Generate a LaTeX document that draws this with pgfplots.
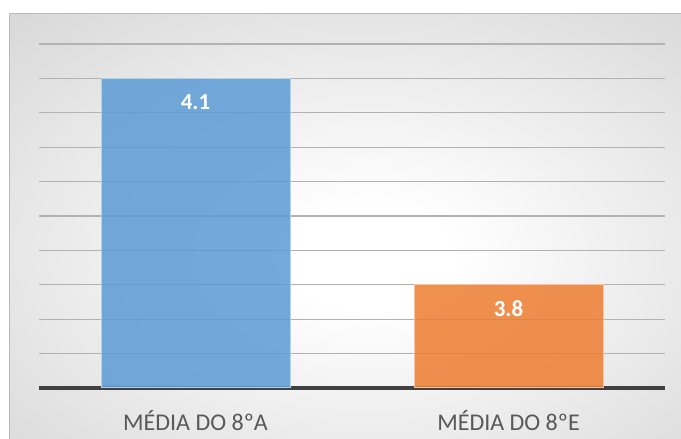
\documentclass[border=0pt]{standalone}
\usepackage{pgfplots}
\pgfplotsset{compat=1.18}
\usepackage{fontspec}
\setmainfont{Carlito}
\definecolor{bblue}{HTML}{5B9BD5}
\definecolor{borange}{HTML}{ED7D31}
\definecolor{tickgray}{HTML}{595959}
\definecolor{baseline}{HTML}{404040}
\pgfdeclareradialshading{bgshade}{\pgfpoint{2bp}{-4bp}}{color(0bp)=(white); color(6bp)=(white); color(50bp)=(black!21); color(72bp)=(black!27); color(100bp)=(black!27)}
\begin{document}
\begin{tikzpicture}[x=1bp,y=1bp]
\useasboundingbox (0,0) rectangle (681,439);
\shade[shading=bgshade] (9,0) rectangle (681,425);
\draw[black!27, line width=1bp] (9,0) -- (9,425) -- (681,425);
\begin{axis}[
  at={(39bp,51bp)}, anchor=south west,
  width=626bp, height=344bp, scale only axis,
  xmin=-0.5, xmax=1.5, ymin=3.65, ymax=4.15,
  xtick={0,1}, xticklabels={MÉDIA DO 8ºA, MÉDIA DO 8ºE},
  ytick={3.65,3.70,3.75,3.80,3.85,3.90,3.95,4.00,4.05,4.10,4.15},
  yticklabels={},
  major tick length=0pt,
  ymajorgrids, grid style={draw=black!30, line width=1.2bp},
  axis x line*=bottom, axis y line*=left,
  x axis line style={draw=baseline, line width=4bp, -},
  y axis line style={draw=none},
  xticklabel style={font=\fontsize{24bp}{28bp}\selectfont, text=tickgray, yshift=-19bp},
  bar width=189bp,
  nodes near coords={\pgfmathprintnumber[fixed,precision=1,fixed zerofill,assume math mode=true]{\pgfplotspointmeta}},
  nodes near coords style={anchor=north, yshift=-12bp, text=white, fill opacity=1, text opacity=1,
    font=\bfseries\fontsize{23bp}{27bp}\selectfont},
]
\addplot[ybar, bar shift=0pt, fill=bblue, fill opacity=0.85, draw=white!55!bblue, line width=1bp] coordinates {(0,4.1)};
\addplot[ybar, bar shift=0pt, fill=borange, fill opacity=0.85, draw=white!55!borange, line width=1bp] coordinates {(1,3.8)};
\end{axis}
\end{tikzpicture}
\end{document}
